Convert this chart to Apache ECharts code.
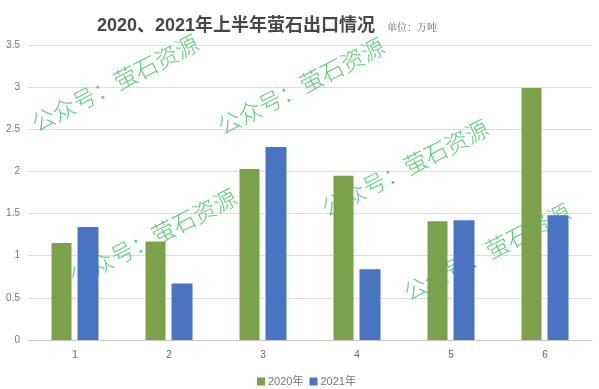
<!DOCTYPE html>
<html><head><meta charset="utf-8">
<script src="https://cdn.jsdelivr.net/npm/echarts@6/dist/echarts.min.js"></script>
<style>html,body{margin:0;padding:0;background:#fff}#c{width:599px;height:389px}</style>
</head><body><div id="c"></div>
<script>
const categories = ['1','2','3','4','5','6'];
const series2020 = [1.15, 1.17, 2.03, 1.95, 1.41, 2.99];
const series2021 = [1.34, 0.67, 2.29, 0.84, 1.42, 1.48];
const yTicks = [0, 0.5, 1, 1.5, 2, 2.5, 3, 3.5];
const seriesNames = ['2020年', '2021年'];
const titleText = '2020、2021年上半年萤石出口情况';
const unitText = '单位：万吨';
const watermarkText = '公众号：萤石资源';
const watermarkCenters = [[115, 83], [301, 86], [153, 237], [405, 168], [487, 252]];

const font = '"Liberation Sans", "Noto Sans CJK SC", sans-serif';
const chart = echarts.init(document.getElementById('c'));
chart.setOption({
  animation: false,
  backgroundColor: '#fff',
  title: {
    text: titleText, left: 92, top: 12,
    textStyle: { fontSize: 18, fontWeight: 'bold', color: '#474747', fontFamily: font }
  },
  grid: { left: 28, right: 7, top: 45, bottom: 49, containLabel: false },
  legend: {
    data: seriesNames, left: 252, top: 371, itemWidth: 8, itemHeight: 8, itemGap: 6,
    icon: 'rect',
    textStyle: { fontSize: 11, color: '#777', fontFamily: font, padding: [0, 0, 0, -2] }
  },
  xAxis: {
    type: 'category', data: categories,
    axisTick: { show: false },
    axisLine: { lineStyle: { color: '#c8c8c8' } },
    axisLabel: { color: '#666', fontSize: 10, margin: 10, fontFamily: font }
  },
  yAxis: {
    type: 'value', min: yTicks[0], max: yTicks[yTicks.length - 1], interval: 0.5,
    axisLine: { show: false }, axisTick: { show: false },
    axisLabel: { color: '#777', fontSize: 10, margin: 8, fontFamily: font },
    splitLine: { lineStyle: { color: '#dedede' } }
  },
  series: [
    { name: seriesNames[0], type: 'bar', data: series2020, barWidth: 20, barGap: '30%', z: 5,
      itemStyle: { color: '#7ba24b' } },
    { name: seriesNames[1], type: 'bar', data: series2021, barWidth: 21, z: 5,
      itemStyle: { color: '#4a74c2' } }
  ],
  graphic: [
    { type: 'text', x: 387, y: 27, style: { text: unitText, fontSize: 10, fill: '#666',
      fontFamily: '"Noto Serif CJK SC", "Noto Sans CJK SC", serif', textVerticalAlign: 'middle' } }
  ].concat(watermarkCenters.map(c => ({
    type: 'text', x: c[0], y: c[1], rotation: 27 * Math.PI / 180, z: 1,
    style: { text: watermarkText, fontSize: 23, fill: '#3fc465', fontWeight: 300,
      fontFamily: '"Noto Sans CJK SC", sans-serif',
      textAlign: 'center', textVerticalAlign: 'middle', opacity: 0.85 }
  })))
});
</script></body></html>
